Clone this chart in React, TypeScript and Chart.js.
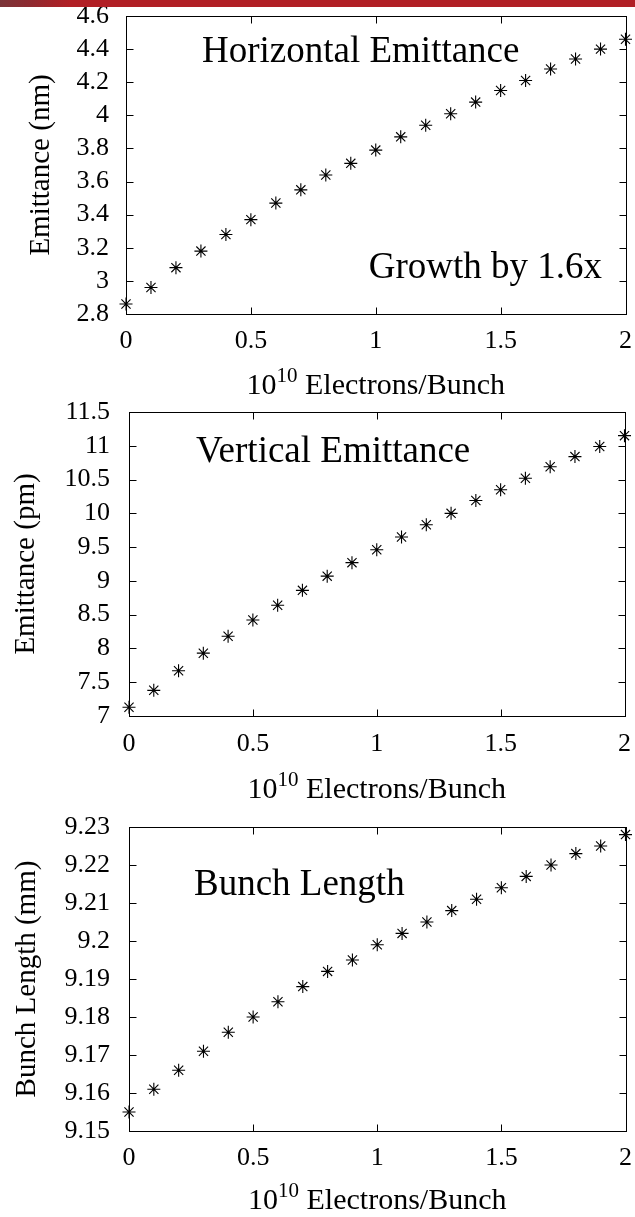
import React, { useEffect, useRef } from "react";
import { Chart, registerables } from "chart.js";

Chart.register(...registerables);

// ---------- data ----------
const electrons = [0, 0.1, 0.2, 0.3, 0.4, 0.5, 0.6, 0.7, 0.8, 0.9, 1.0, 1.1, 1.2, 1.3, 1.4, 1.5, 1.6, 1.7, 1.8, 1.9, 2.0];
const horizontalEmittance = [2.86, 2.96, 3.08, 3.18, 3.28, 3.37, 3.47, 3.55, 3.64, 3.71, 3.79, 3.87, 3.94, 4.01, 4.08, 4.15, 4.21, 4.28, 4.34, 4.40, 4.46];
const verticalEmittance = [7.13, 7.38, 7.67, 7.93, 8.18, 8.42, 8.64, 8.86, 9.07, 9.27, 9.46, 9.65, 9.83, 10.0, 10.19, 10.35, 10.52, 10.69, 10.84, 10.99, 11.15];
const bunchLength = [9.155, 9.161, 9.166, 9.171, 9.176, 9.18, 9.184, 9.188, 9.192, 9.195, 9.199, 9.202, 9.205, 9.208, 9.211, 9.214, 9.217, 9.22, 9.223, 9.225, 9.228];

const xTicks = [0, 0.5, 1, 1.5, 2];
const xTickLabels = ["0", "0.5", "1", "1.5", "2"];
const hTicks = [2.8, 3, 3.2, 3.4, 3.6, 3.8, 4, 4.2, 4.4, 4.6];
const hTickLabels = ["2.8", "3", "3.2", "3.4", "3.6", "3.8", "4", "4.2", "4.4", "4.6"];
const vTicks = [7, 7.5, 8, 8.5, 9, 9.5, 10, 10.5, 11, 11.5];
const vTickLabels = ["7", "7.5", "8", "8.5", "9", "9.5", "10", "10.5", "11", "11.5"];
const bTicks = [9.15, 9.16, 9.17, 9.18, 9.19, 9.2, 9.21, 9.22, 9.23];
const bTickLabels = ["9.15", "9.16", "9.17", "9.18", "9.19", "9.2", "9.21", "9.22", "9.23"];

const xTitleMain = "10";
const xTitleSup = "10";
const xTitleRest = " Electrons/Bunch";

const FONT = "'Liberation Serif', 'Times New Roman', serif";
const TICK_SIZE = 26;
const CANVAS_W = 646;

type Note = { text: string; x: number; y: number; align: CanvasTextAlign };

type Panel = {
  plotTop: number;   // page px
  plotBottom: number; // page px
  yWidth: number;
  xHeight: number;
  yPad: number;
  xPad: number;
  yTitle: string;
  yTitlePad: number;
  ticks: number[];
  labels: string[];
  values: number[];
  notes: Note[];        // page coords
  xTitleBaseline: number; // page px
};

const panels: Panel[] = [
  {
    plotTop: 16, plotBottom: 314, yWidth: 126, xHeight: 86, yPad: 17, xPad: 14,
    yTitle: "Emittance (nm)", yTitlePad: 24,
    ticks: hTicks, labels: hTickLabels, values: horizontalEmittance,
    notes: [
      { text: "Horizontal Emittance", x: 202, y: 62, align: "left" },
      { text: "Growth by 1.6x", x: 602, y: 278, align: "right" },
    ],
    xTitleBaseline: 394,
  },
  {
    plotTop: 412, plotBottom: 716, yWidth: 129, xHeight: 94, yPad: 19, xPad: 15,
    yTitle: "Emittance (pm)", yTitlePad: 9,
    ticks: vTicks, labels: vTickLabels, values: verticalEmittance,
    notes: [{ text: "Vertical Emittance", x: 196, y: 462, align: "left" }],
    xTitleBaseline: 798,
  },
  {
    plotTop: 827, plotBottom: 1131, yWidth: 129, xHeight: 86, yPad: 19, xPad: 14,
    yTitle: "Bunch Length (mm)", yTitlePad: 10,
    ticks: bTicks, labels: bTickLabels, values: bunchLength,
    notes: [{ text: "Bunch Length", x: 194, y: 895, align: "left" }],
    xTitleBaseline: 1209,
  },
];

function canvasGeom(p: Panel) {
  const topOffset = TICK_SIZE / 2 + p.yPad; // Chart.js puts plot top at half label height + tick padding
  const top = p.plotTop - topOffset;
  const height = p.plotBottom - top + p.xHeight;
  return { top, height };
}

function makePlugins(p: Panel, canvasTop: number) {
  const frame = {
    id: "frameTicks",
    beforeDatasetsDraw(chart: any) {
      const { ctx, chartArea: a, scales } = chart;
      ctx.save();
      ctx.strokeStyle = "#000";
      ctx.lineWidth = 1;
      const l = Math.round(a.left) + 0.5;
      const r = Math.round(a.right) + 0.5;
      const t = Math.round(a.top) + 0.5;
      const b = Math.round(a.bottom) + 0.5;
      ctx.strokeRect(l, t, r - l, b - t);
      const len = 7;
      ctx.beginPath();
      for (const tk of scales.y.ticks) {
        const y = Math.round(scales.y.getPixelForValue(tk.value)) + 0.5;
        ctx.moveTo(l, y); ctx.lineTo(l + len, y);
        ctx.moveTo(r, y); ctx.lineTo(r - len, y);
      }
      for (const tk of scales.x.ticks) {
        const x = Math.round(scales.x.getPixelForValue(tk.value)) + 0.5;
        ctx.moveTo(x, b); ctx.lineTo(x, b - len);
        ctx.moveTo(x, t); ctx.lineTo(x, t + len);
      }
      ctx.stroke();
      ctx.restore();
    },
  };
  const texts = {
    id: "panelTexts",
    afterDraw(chart: any) {
      const { ctx, chartArea: a } = chart;
      ctx.save();
      ctx.fillStyle = "#000";
      ctx.textBaseline = "alphabetic";
      ctx.font = `37px ${FONT}`;
      for (const n of p.notes) {
        ctx.textAlign = n.align;
        ctx.fillText(n.text, n.x, n.y - canvasTop);
      }
      // x-axis title with superscript
      const big = `30px ${FONT}`;
      const small = `21px ${FONT}`;
      ctx.textAlign = "left";
      ctx.font = big;
      const w1 = ctx.measureText(xTitleMain).width;
      const w3 = ctx.measureText(xTitleRest).width;
      ctx.font = small;
      const w2 = ctx.measureText(xTitleSup).width;
      const total = w1 + w2 + w3;
      let x = (a.left + a.right) / 2 - total / 2;
      const y = p.xTitleBaseline - canvasTop;
      ctx.font = big;
      ctx.fillText(xTitleMain, x, y);
      x += w1;
      ctx.font = small;
      ctx.fillText(xTitleSup, x, y - 12);
      x += w2;
      ctx.font = big;
      ctx.fillText(xTitleRest, x, y);
      ctx.restore();
    },
  };
  return [frame, texts];
}

function PanelChart({ p }: { p: Panel }) {
  const ref = useRef<HTMLCanvasElement | null>(null);
  const g = canvasGeom(p);
  useEffect(() => {
    if (!ref.current) return;
    const tickFont = { family: FONT, size: TICK_SIZE, lineHeight: 1 };
    const chart = new Chart(ref.current, {
      type: "scatter",
      data: {
        datasets: [
          {
            data: electrons.map((x, i) => ({ x, y: p.values[i] })),
            showLine: false,
            pointStyle: "star",
            pointRadius: 6.5,
            pointHoverRadius: 6.5,
            borderColor: "#000",
            backgroundColor: "#000",
            borderWidth: 1.1,
            clip: false,
          } as any,
        ],
      },
      options: {
        animation: false,
        responsive: false,
        devicePixelRatio: 1,
        events: [],
        layout: { padding: { top: 0, right: 0, left: 0, bottom: 0 } },
        plugins: { legend: { display: false }, tooltip: { enabled: false } },
        scales: {
          x: {
            type: "linear",
            min: xTicks[0],
            max: xTicks[xTicks.length - 1],
            afterBuildTicks: (s: any) => { s.ticks = xTicks.map((v) => ({ value: v })); },
            afterFit: (s: any) => { s.height = p.xHeight; },
            grid: { display: false, drawTicks: false },
            border: { display: false },
            ticks: {
              font: tickFont, color: "#000", padding: p.xPad, autoSkip: false, maxRotation: 0,
              callback: (_v: any, i: number) => xTickLabels[i],
            },
          },
          y: {
            type: "linear",
            min: p.ticks[0],
            max: p.ticks[p.ticks.length - 1],
            afterBuildTicks: (s: any) => { s.ticks = p.ticks.map((v) => ({ value: v })); },
            afterFit: (s: any) => { s.width = p.yWidth; },
            grid: { display: false, drawTicks: false },
            border: { display: false },
            ticks: {
              font: tickFont, color: "#000", padding: p.yPad, autoSkip: false,
              callback: (_v: any, i: number) => p.labels[i],
            },
            title: {
              display: true, text: p.yTitle, color: "#000",
              font: { family: FONT, size: 29 },
              padding: { top: p.yTitlePad, bottom: 0 },
            },
          },
        },
      } as any,
      plugins: makePlugins(p, g.top) as any,
    });
    return () => chart.destroy();
  }, [p]);
  return (
    <canvas
      ref={ref}
      width={CANVAS_W}
      height={g.height}
      style={{ position: "absolute", left: 0, top: g.top, width: CANVAS_W, height: g.height }}
    />
  );
}

export default function App() {
  useEffect(() => {
    document.body.style.margin = "0";
  }, []);
  return (
    <div style={{ position: "absolute", left: 0, top: 0, width: 635, height: 1217, background: "#fff", overflow: "hidden" }}>
      {panels.map((p, i) => (
        <PanelChart key={i} p={p} />
      ))}
      <div
        style={{
          position: "absolute", left: 0, top: 0, width: 635, height: 7,
          background: "linear-gradient(to right, #7a3438 0px, #8e2a30 30px, #a52228 55px, #b11f25 70px, #b11f25 100%)",
        }}
      />
    </div>
  );
}
